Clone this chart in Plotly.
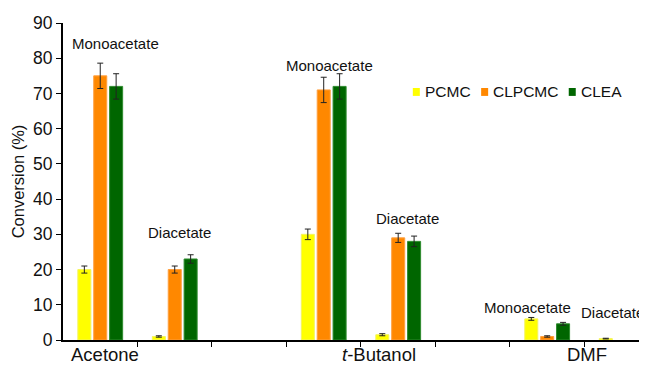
import plotly.graph_objects as go

slots = [0, 1, 3, 4, 6, 7]  # Acetone mono/di, t-Butanol mono/di, DMF mono/di
pcmc = [20, 1, 30, 1.5, 6, 0.4]
pcmc_err = [1, 0.2, 1.5, 0.3, 0.4, 0.1]
clpcmc = [75, 20, 71, 29, 1, None]
clpcmc_err = [3.6, 1, 3.6, 1.3, 0.2, None]
clea = [72, 23, 72, 28, 4.6, None]
clea_err = [3.6, 1.2, 3.6, 1.5, 0.4, None]

series_names = ["PCMC", "CLPCMC", "CLEA"]
colors = ["#FFFF00", "#FF8800", "#006600"]
edges = ["#F4F460", "#FFA040", "#2E8B2E"]

solvents = ["Acetone", "<i>t</i>-Butanol", "DMF"]
solvent_x = [0.06, 3.74, 6.53]

product_labels = ["Monoacetate", "Diacetate", "Monoacetate", "Diacetate", "Monoacetate"]
label_pos = [(0.21, 84.1), (1.07, 30.4), (3.08, 77.8), (4.12, 34.4), (5.74, 9.1)]
last_label = "Diacetate"
last_label_y = 7.7

# manual legend placement (paper coords)
legend_x = [0.599, 0.716, 0.866]

OFF = 8  # page body margin

fig = go.Figure()
for name, vals, errs, c, e in zip(series_names, [pcmc, clpcmc, clea],
                                  [pcmc_err, clpcmc_err, clea_err], colors, edges):
    fig.add_trace(go.Bar(
        x=slots, y=vals, name=name, showlegend=False,
        marker=dict(color=c, line=dict(color=e, width=1)),
        error_y=dict(type="data", array=errs, visible=True, color="#222",
                     thickness=1, width=3),
    ))

for txt, (x, y) in zip(product_labels, label_pos):
    fig.add_annotation(x=x, y=y, text=txt, showarrow=False,
                       font=dict(size=15, color="#111"), xref="x", yref="y")
fig.add_annotation(x=1, xref="paper", xanchor="right", xshift=-1, y=last_label_y, yref="y",
                   text=last_label, showarrow=False, font=dict(size=15, color="#111"))

for txt, x in zip(solvents, solvent_x):
    fig.add_annotation(x=x, y=0, yref="paper", xref="x", yshift=-27,
                       text=txt, showarrow=False, font=dict(size=18.5, color="#111"))

for name, c, lx in zip(series_names, colors, legend_x):
    fig.add_shape(type="rect", xref="paper", yref="paper",
                  x0=lx, x1=lx + 0.012, y0=0.77, y1=0.795,
                  fillcolor=c, line=dict(width=0))
    fig.add_annotation(xref="paper", yref="paper", x=lx + 0.017, y=0.783,
                       xanchor="left", yanchor="middle", text=name, showarrow=False,
                       font=dict(size=15.5, color="#111"))

fig.update_layout(
    width=647 - OFF, height=373 - OFF,
    margin=dict(l=63 - OFF, r=0, t=23 - OFF, b=33, autoexpand=False),
    paper_bgcolor="white", plot_bgcolor="white",
    font=dict(family="Liberation Sans, Arial, Helvetica, sans-serif", color="#111"),
    barmode="group", bargap=0.36, bargroupgap=0.18,
    showlegend=False,
    xaxis=dict(range=[-0.5, 7.34], tickvals=[0.5, 1.5, 2.5, 3.5, 4.5, 5.5, 6.5],
               showticklabels=False, ticks="outside", ticklen=5, tickcolor="black",
               showline=True, linecolor="black", linewidth=2, showgrid=False,
               zeroline=False),
    yaxis=dict(range=[0, 90], dtick=10, ticks="outside", ticklen=5, tickcolor="black",
               showline=True, linecolor="black", linewidth=2, showgrid=False,
               zeroline=False, tickfont=dict(size=17.5),
               title=dict(text="Conversion (%)", font=dict(size=16.5), standoff=4)),
)

fig.write_html("out.html")
